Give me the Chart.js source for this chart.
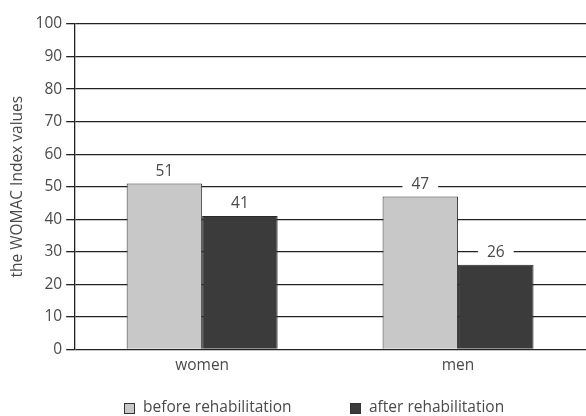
<!DOCTYPE html>
<html>
<head>
<meta charset="utf-8">
<script src="https://cdn.jsdelivr.net/npm/chart.js@4"></script>
<style>
  html, body { margin: 0; padding: 0; background: #fff; }
  #wrap { width: 586px; height: 416px; }
</style>
</head>
<body>
<div id="wrap"><canvas id="c" width="586" height="416"></canvas></div>
<script>
const categories = ["women", "men"];
const seriesNames = ["before rehabilitation", "after rehabilitation"];
const beforeValues = [51, 47];
const afterValues = [41, 26];
const yTicks = [0, 10, 20, 30, 40, 50, 60, 70, 80, 90, 100];

const FONT = "'Open Sans', 'Noto Sans', sans-serif";
const FS = 15.5;
const TEXT = "#4a4a4a";

const valueLabels = {
  id: "valueLabels",
  afterDatasetsDraw(chart) {
    const ctx = chart.ctx;
    ctx.save();
    ctx.font = FS + "px " + FONT;
    ctx.textAlign = "center";
    ctx.textBaseline = "middle";
    chart.data.datasets.forEach((ds, i) => {
      const meta = chart.getDatasetMeta(i);
      meta.data.forEach((bar, j) => {
        const txt = String(ds.data[j]);
        const w = ctx.measureText(txt).width;
        const cy = bar.y - 12;
        ctx.fillStyle = "#ffffff";
        ctx.fillRect(bar.x - w / 2 - 9, cy - 9, w + 18, 17);
        ctx.fillStyle = TEXT;
        ctx.fillText(txt, bar.x, cy);
      });
    });
    ctx.restore();
  }
};

const bottomLegend = {
  id: "bottomLegend",
  afterDraw(chart) {
    const ctx = chart.ctx;
    ctx.save();
    ctx.font = FS + "px " + FONT;
    ctx.textBaseline = "middle";
    ctx.textAlign = "left";
    const starts = [124, 350];
    const y = 408;
    chart.data.datasets.forEach((ds, i) => {
      const x = starts[i];
      ctx.fillStyle = ds.backgroundColor;
      ctx.strokeStyle = "#333";
      ctx.lineWidth = 1;
      ctx.fillRect(x + 0.5, y - 4.5, 10, 10);
      ctx.strokeRect(x + 0.5, y - 4.5, 10, 10);
      ctx.fillStyle = TEXT;
      ctx.fillText(ds.label, x + 19, y);
    });
    ctx.restore();
  }
};

new Chart(document.getElementById("c"), {
  type: "bar",
  data: {
    labels: categories,
    datasets: [
      { label: seriesNames[0], data: beforeValues, backgroundColor: "#c8c8c8", borderColor: "#333333", borderWidth: 1 },
      { label: seriesNames[1], data: afterValues, backgroundColor: "#3b3b3b", borderColor: "#2a2a2a", borderWidth: 1 }
    ]
  },
  options: {
    responsive: false,
    animation: false,
    devicePixelRatio: 1,
    layout: { padding: { top: 24, right: 0, bottom: 34, left: 8 } },
    plugins: {
      legend: { display: false },
      tooltip: { enabled: false }
    },
    datasets: { bar: { categoryPercentage: 0.59, barPercentage: 1 } },
    scales: {
      x: {
        grid: { display: false, drawTicks: false },
        border: { display: false },
        ticks: { color: TEXT, font: { family: FONT, size: FS }, padding: 7 }
      },
      y: {
        min: 0, max: 100,
        afterBuildTicks(axis) { axis.ticks = yTicks.map(v => ({ value: v })); },
        grid: { color: "#222222", lineWidth: 1.3, tickLength: 8 },
        border: { display: true, color: "#222222", width: 1.3 },
        ticks: { color: TEXT, font: { family: FONT, size: FS }, padding: 4 },
        title: { display: true, text: "the WOMAC Index values", color: TEXT, font: { family: FONT, size: FS }, padding: { top: 0, bottom: 5 } }
      }
    }
  },
  plugins: [valueLabels, bottomLegend]
});
</script>
</body>
</html>
